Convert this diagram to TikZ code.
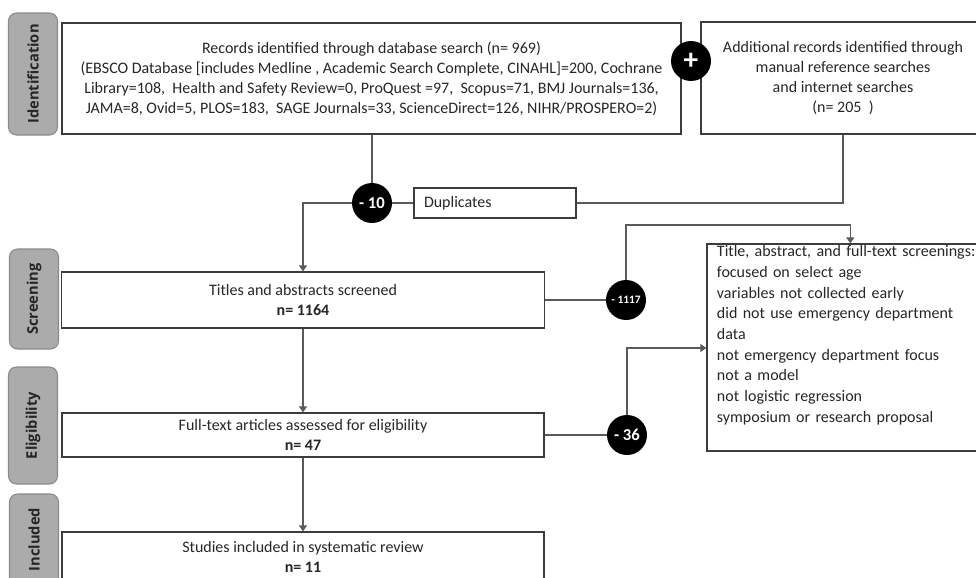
\documentclass[tikz,border=0pt]{standalone}
\usepackage{fontspec}
\setmainfont{Carlito}
\newfontfamily\tabfont{Open Sans}
\usetikzlibrary{arrows.meta}
\definecolor{tabgray}{HTML}{ABABAB}
\definecolor{tabedge}{HTML}{8A8A8A}
\definecolor{linegray}{HTML}{5A5A5A}
\definecolor{boxedge}{HTML}{3C3C3C}
\definecolor{txt}{HTML}{262626}
\tikzset{
  box/.style={draw=boxedge, line width=0.9pt, rectangle, inner sep=0pt, text=txt,
    font=\fontsize{12}{15}\selectfont, align=center},
  tab/.style={draw=tabedge, fill=tabgray, rounded corners=6pt, line width=0.8pt,
    rotate=90, minimum height=36.75pt, inner sep=0pt, text=black!85,
    font=\tabfont\bfseries\fontsize{11}{13}\selectfont},
  minus/.style={circle, fill=black, text=white, inner sep=0pt, minimum size=30pt,
    font=\bfseries\fontsize{12.5}{14}\selectfont},
  conn/.style={draw=linegray, line width=0.9pt},
  arr/.style={conn, -{Triangle[length=4.5pt,width=6pt]}}
}
\begin{document}
\begin{tikzpicture}[x=0.75pt,y=-0.75pt]
\useasboundingbox (0,0) rectangle (976,578);
\clip (0,0) rectangle (976,578);
\node[tab, minimum width=91.5pt] (tabid) at (33,74){Identification};
\node[tab, minimum width=75pt] (tabscr) at (34,299){Screening};
\node[tab, minimum width=87.75pt] (tabelig) at (33,425.5){Eligibility};
\node[tab, text width=58.5pt, align=right, inner xsep=10.5pt] (tabincl) at (34,547){Included};
\node[box, minimum width=464.25pt, minimum height=83.25pt] (recs) at (371.5,78.5){Records identified through database search (n= 969)\\
(EBSCO Database [includes Medline , Academic Search Complete, CINAHL]=200, Cochrane\\
Library=108,\ \ Health and Safety Review=0, ProQuest =97,\ \ Scopus=71, BMJ Journals=136,\\
JAMA=8, Ovid=5, PLOS=183,\ \ SAGE Journals=33, ScienceDirect=126, NIHR/PROSPERO=2)};
\node[box, minimum width=213pt, minimum height=84pt] (addrecs) at (843,78){Additional records identified through\\
manual reference searches\\
and internet searches\\
(n= 205\ \ )};
\node[minus, font=\bfseries\fontsize{22}{22}\selectfont] (plus) at (691,61){+};
\node[minus] (minus10) at (372,203){- 10};
\node[box, minimum width=121.5pt, minimum height=22.5pt, text width=106.5pt, align=left, inner xsep=7.5pt] (dups) at (495,203){Duplicates};
\node[box, minimum width=362.25pt, minimum height=42pt] (titles) at (303,300){Titles and abstracts screened\\
\textbf{n= 1164}};
\node[minus, font=\bfseries\fontsize{8.5}{10}\selectfont] (minus1117) at (626,300){- 1117};
\node[box, minimum height=155.25pt, text width=200pt, inner xsep=7.5pt, align=left, font=\fontsize{12}{15.5}\selectfont] (excl) at (850.3,347.5){Title, abstract, and full-text screenings:\\
focused on select age\\
variables not collected early\\
did not use emergency department\\
data\\
not emergency department focus\\
not a model\\
not logistic regression\\
symposium or research proposal\\
\strut};
\node[box, minimum width=361.5pt, minimum height=33pt] (fulltext) at (303,435){Full-text articles assessed for eligibility\\
\textbf{n= 47}};
\node[minus] (minus36) at (627,435){- 36};
\node[box, minimum width=361.5pt, minimum height=37.5pt] (studies) at (303,557){Studies included in systematic review\\
\textbf{n= 11}};
\coordinate (turn1) at (626,225);
\coordinate (turn2) at (627,348);
\draw[conn] (recs.south -| minus10.north) -- (minus10.north);
\draw[conn] (minus10) -- (dups);
\draw[arr] (minus10.west) -| (titles.north);
\draw[conn] (addrecs.south) |- (dups.east);
\draw[conn] (titles) -- (minus1117);
\draw[arr] (minus1117.north) -- (turn1) -| (excl.north);
\draw[arr] (titles) -- (fulltext);
\draw[conn] (fulltext) -- (minus36);
\draw[arr] (minus36.north) -- (turn2) -- (turn2 -| excl.west);
\draw[arr] (fulltext) -- (studies);
\end{tikzpicture}
\end{document}
